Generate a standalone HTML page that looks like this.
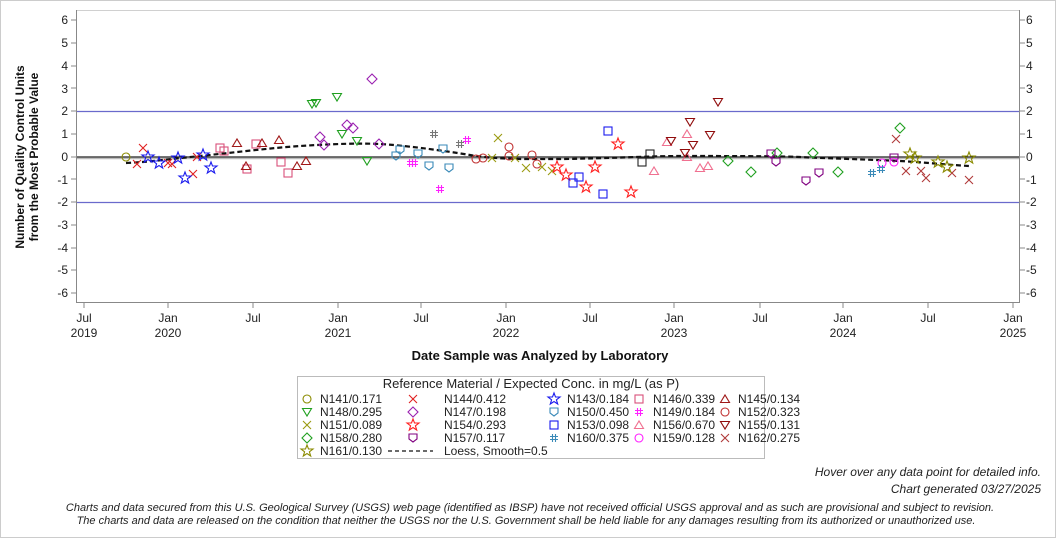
<!DOCTYPE html>
<html><head><meta charset="utf-8"><style>
body{margin:0;background:#fff;}
svg{display:block;font-family:"Liberation Sans",Arial,sans-serif;}
</style></head><body>
<svg width="1056" height="538" viewBox="0 0 1056 538" xmlns="http://www.w3.org/2000/svg">
<defs>
<g id="ci"><circle r="4" fill="none" stroke-width="1.1"/></g>
<g id="xx"><path d="M-4,-4L4,4M-4,4L4,-4" fill="none" stroke-width="1.1"/></g>
<g id="td"><path d="M-4.5,-3.5L4.5,-3.5L0,4Z" fill="none" stroke-width="1.1"/></g>
<g id="tu"><path d="M-4.5,3.5L4.5,3.5L0,-4Z" fill="none" stroke-width="1.1"/></g>
<g id="di"><path d="M0,-5L5,0L0,5L-5,0Z" fill="none" stroke-width="1.1"/></g>
<g id="st"><path d="M0,-6L1.5,-2L6,-2L2.4,0.8L3.7,5L0,2.5L-3.7,5L-2.4,0.8L-6,-2L-1.5,-2Z" fill="none" stroke-width="1.1"/></g>
<g id="sq"><rect x="-4" y="-4" width="8" height="8" fill="none" stroke-width="1.1"/></g>
<g id="sh"><path d="M-4,-4L4,-4L4,1L0,4L-4,1Z" fill="none" stroke-width="1.1"/></g>
<g id="ha"><path d="M-1.5,-4L-1.5,4M1.5,-4L1.5,4M-4,-1.5L4,-1.5M-4,1.5L4,1.5" fill="none" stroke-width="1.1"/></g>
</defs>
<rect x="0.5" y="0.5" width="1055" height="537" fill="none" stroke="#ccc"/>
<!-- frame -->
<rect x="76.5" y="10.5" width="943" height="292" fill="none" stroke="#d0d0d0"/>
<line x1="76.5" y1="10" x2="76.5" y2="303" stroke="#888"/>
<line x1="1019.5" y1="10" x2="1019.5" y2="303" stroke="#888"/>
<line x1="76" y1="302.5" x2="1020" y2="302.5" stroke="#888"/>
<line x1="77" y1="111.5" x2="1019" y2="111.5" stroke="#6a6acc" stroke-width="1.3"/>
<line x1="77" y1="202.5" x2="1019" y2="202.5" stroke="#6a6acc" stroke-width="1.3"/>
<line x1="77" y1="158.5" x2="1019" y2="158.5" stroke="#bbb" stroke-width="1.5"/>
<line x1="77" y1="157" x2="1019" y2="157" stroke="#222" stroke-width="1.2"/>
<g font-size="12" fill="#222">
<g text-anchor="end">
<text x="68" y="24">6</text><text x="68" y="47">5</text><text x="68" y="70">4</text><text x="68" y="93">3</text><text x="68" y="115">2</text><text x="68" y="138">1</text><text x="68" y="161">0</text><text x="68" y="184">-1</text><text x="68" y="206">-2</text><text x="68" y="229">-3</text><text x="68" y="252">-4</text><text x="68" y="274">-5</text><text x="68" y="297">-6</text>
</g>
<g text-anchor="start">
<text x="1026" y="24">6</text><text x="1026" y="47">5</text><text x="1026" y="70">4</text><text x="1026" y="93">3</text><text x="1026" y="115">2</text><text x="1026" y="138">1</text><text x="1026" y="161">0</text><text x="1026" y="184">-1</text><text x="1026" y="206">-2</text><text x="1026" y="229">-3</text><text x="1026" y="252">-4</text><text x="1026" y="274">-5</text><text x="1026" y="297">-6</text>
</g>
</g>
<g stroke="#888">
<path d="M71,20H76M71,43H76M71,66H76M71,88H76M71,111H76M71,134H76M71,157H76M71,179H76M71,202H76M71,225H76M71,248H76M71,270H76M71,293H76"/>
<path d="M1020,20H1025M1020,43H1025M1020,66H1025M1020,88H1025M1020,111H1025M1020,134H1025M1020,157H1025M1020,179H1025M1020,202H1025M1020,225H1025M1020,248H1025M1020,270H1025M1020,293H1025"/>
<path d="M84,303V308M168,303V308M253,303V308M338,303V308M421,303V308M506,303V308M590,303V308M674,303V308M760,303V308M843,303V308M928,303V308M1013,303V308"/>
</g>
<g font-size="12" fill="#222" text-anchor="middle">
<text x="84" y="322">Jul</text><text x="84" y="337">2019</text>
<text x="168" y="322">Jan</text><text x="168" y="337">2020</text>
<text x="253" y="322">Jul</text>
<text x="338" y="322">Jan</text><text x="338" y="337">2021</text>
<text x="421" y="322">Jul</text>
<text x="506" y="322">Jan</text><text x="506" y="337">2022</text>
<text x="590" y="322">Jul</text>
<text x="674" y="322">Jan</text><text x="674" y="337">2023</text>
<text x="760" y="322">Jul</text>
<text x="843" y="322">Jan</text><text x="843" y="337">2024</text>
<text x="928" y="322">Jul</text>
<text x="1013" y="322">Jan</text><text x="1013" y="337">2025</text>
</g>
<text x="540" y="360" font-size="13" font-weight="bold" text-anchor="middle" fill="#111">Date Sample was Analyzed by Laboratory</text>
<g transform="translate(24,157) rotate(-90)" font-size="12" font-weight="bold" text-anchor="middle" fill="#111">
<text x="0" y="0">Number of Quality Control Units</text>
<text x="0" y="14">from the Most Probable Value</text>
</g>
<!-- loess -->
<path d="M126,163 C150,162 170,159 200,156 S270,148 300,146 S360,143 380,144 S440,150 470,155 S530,159 560,159 S650,156 680,156 S780,156 800,157 S880,160 900,161 S950,165 969,166" fill="none" stroke="#111" stroke-width="2.2" stroke-dasharray="5,3"/>
<!-- points -->
<g stroke="#8b8b00"><use href="#ci" x="126" y="157"/></g>
<g stroke="#e02020"><use href="#xx" x="137" y="164"/><use href="#xx" x="143" y="148"/><use href="#xx" x="168" y="163"/><use href="#xx" x="172" y="164"/><use href="#xx" x="193" y="174"/><use href="#xx" x="197" y="157"/></g>
<g stroke="#1a1aee"><use href="#st" x="148" y="157"/><use href="#st" x="159" y="163"/><use href="#st" x="178" y="158"/><use href="#st" x="185" y="178"/><use href="#st" x="203" y="155"/><use href="#st" x="211" y="168"/></g>
<g stroke="#d9507a"><use href="#sq" x="220" y="148"/><use href="#sq" x="224" y="151"/><use href="#sq" x="247" y="169"/><use href="#sq" x="256" y="144"/><use href="#sq" x="281" y="162"/><use href="#sq" x="288" y="173"/></g>
<g stroke="#a01818"><use href="#tu" x="237" y="143"/><use href="#tu" x="246" y="166"/><use href="#tu" x="262" y="143"/><use href="#tu" x="279" y="140"/><use href="#tu" x="297" y="166"/><use href="#tu" x="306" y="161"/></g>
<g stroke="#20a020"><use href="#td" x="312" y="104"/><use href="#td" x="316" y="103"/><use href="#td" x="337" y="97"/><use href="#td" x="342" y="134"/><use href="#td" x="357" y="141"/><use href="#td" x="367" y="161"/></g>
<g stroke="#9a20b0"><use href="#di" x="320" y="137"/><use href="#di" x="324" y="145"/><use href="#di" x="347" y="125"/><use href="#di" x="353" y="128"/><use href="#di" x="372" y="79"/><use href="#di" x="379" y="144"/></g>
<g stroke="#3a8ab8"><use href="#sh" x="396" y="156"/><use href="#sh" x="400" y="150"/><use href="#sh" x="418" y="154"/><use href="#sh" x="429" y="166"/><use href="#sh" x="443" y="149"/><use href="#sh" x="449" y="168"/></g>
<g stroke="#ff20ff"><use href="#ha" x="411" y="163"/><use href="#ha" x="414" y="163"/><use href="#ha" x="440" y="189"/><use href="#ha" x="467" y="140"/></g>
<g stroke="#777"><use href="#ha" x="434" y="134"/><use href="#ha" x="460" y="144"/></g>
<g stroke="#c03030"><use href="#ci" x="476" y="159"/><use href="#ci" x="483" y="158"/><use href="#ci" x="509" y="147"/><use href="#ci" x="509" y="156"/><use href="#ci" x="532" y="155"/><use href="#ci" x="537" y="164"/></g>
<g stroke="#9a9a10"><use href="#xx" x="492" y="158"/><use href="#xx" x="498" y="138"/><use href="#xx" x="515" y="158"/><use href="#xx" x="526" y="168"/><use href="#xx" x="542" y="167"/><use href="#xx" x="552" y="171"/></g>
<g stroke="#ff2020"><use href="#st" x="557" y="167"/><use href="#st" x="566" y="175"/><use href="#st" x="586" y="187"/><use href="#st" x="595" y="167"/><use href="#st" x="618" y="144"/><use href="#st" x="631" y="192"/></g>
<g stroke="#1a1aee"><use href="#sq" x="573" y="183"/><use href="#sq" x="579" y="177"/><use href="#sq" x="603" y="194"/><use href="#sq" x="608" y="131"/></g>
<g stroke="#222"><use href="#sq" x="642" y="162"/><use href="#sq" x="650" y="154"/></g>
<g stroke="#f07090"><use href="#tu" x="654" y="171"/><use href="#tu" x="667" y="142"/><use href="#tu" x="687" y="134"/><use href="#tu" x="687" y="157"/><use href="#tu" x="700" y="168"/><use href="#tu" x="708" y="166"/></g>
<g stroke="#900c0c"><use href="#td" x="671" y="141"/><use href="#td" x="685" y="153"/><use href="#td" x="690" y="122"/><use href="#td" x="693" y="145"/><use href="#td" x="710" y="135"/><use href="#td" x="718" y="102"/></g>
<g stroke="#20a020"><use href="#di" x="728" y="161"/><use href="#di" x="751" y="172"/><use href="#di" x="777" y="153"/><use href="#di" x="813" y="153"/><use href="#di" x="838" y="172"/><use href="#di" x="900" y="128"/></g>
<g stroke="#800080"><use href="#sh" x="771" y="154"/><use href="#sh" x="776" y="162"/><use href="#sh" x="806" y="181"/><use href="#sh" x="819" y="173"/><use href="#sh" x="894" y="158"/></g>
<g stroke="#ff20ff"><use href="#ci" x="882" y="163"/><use href="#ci" x="894" y="162"/></g>
<g stroke="#3a8ab8"><use href="#ha" x="872" y="173"/><use href="#ha" x="881" y="169"/></g>
<g stroke="#b03a3a"><use href="#xx" x="896" y="139"/><use href="#xx" x="906" y="171"/><use href="#xx" x="921" y="171"/><use href="#xx" x="926" y="178"/><use href="#xx" x="952" y="173"/><use href="#xx" x="969" y="180"/></g>
<g stroke="#8b8b00"><use href="#st" x="910" y="154"/><use href="#st" x="915" y="158"/><use href="#st" x="938" y="162"/><use href="#st" x="947" y="167"/><use href="#st" x="969" y="158"/></g>
<!-- legend -->
<rect x="297.5" y="376.5" width="467" height="82" fill="none" stroke="#bbb"/>
<text x="531" y="388" font-size="13" text-anchor="middle" fill="#222">Reference Material / Expected Conc. in mg/L (as P)</text>
<g font-size="12" fill="#222">
<g stroke="#8b8b00"><use href="#ci" x="307" y="399"/></g><text x="320" y="403">N141/0.171</text>
<g stroke="#e02020"><use href="#xx" x="413" y="399"/></g><text x="444" y="403">N144/0.412</text>
<g stroke="#1a1aee"><use href="#st" x="554" y="399"/></g><text x="567" y="403">N143/0.184</text>
<g stroke="#d9507a"><use href="#sq" x="639" y="399"/></g><text x="653" y="403">N146/0.339</text>
<g stroke="#a01818"><use href="#tu" x="725" y="399"/></g><text x="738" y="403">N145/0.134</text>

<g stroke="#20a020"><use href="#td" x="307" y="412"/></g><text x="320" y="416">N148/0.295</text>
<g stroke="#9a20b0"><use href="#di" x="413" y="412"/></g><text x="444" y="416">N147/0.198</text>
<g stroke="#3a8ab8"><use href="#sh" x="554" y="412"/></g><text x="567" y="416">N150/0.450</text>
<g stroke="#ff20ff"><use href="#ha" x="639" y="412"/></g><text x="653" y="416">N149/0.184</text>
<g stroke="#c03030"><use href="#ci" x="725" y="412"/></g><text x="738" y="416">N152/0.323</text>

<g stroke="#9a9a10"><use href="#xx" x="307" y="425"/></g><text x="320" y="429">N151/0.089</text>
<g stroke="#ff2020"><use href="#st" x="413" y="425"/></g><text x="444" y="429">N154/0.293</text>
<g stroke="#1a1aee"><use href="#sq" x="554" y="425"/></g><text x="567" y="429">N153/0.098</text>
<g stroke="#f07090"><use href="#tu" x="639" y="425"/></g><text x="653" y="429">N156/0.670</text>
<g stroke="#900c0c"><use href="#td" x="725" y="425"/></g><text x="738" y="429">N155/0.131</text>

<g stroke="#20a020"><use href="#di" x="307" y="438"/></g><text x="320" y="442">N158/0.280</text>
<g stroke="#800080"><use href="#sh" x="413" y="438"/></g><text x="444" y="442">N157/0.117</text>
<g stroke="#3a8ab8"><use href="#ha" x="554" y="438"/></g><text x="567" y="442">N160/0.375</text>
<g stroke="#ff20ff"><use href="#ci" x="639" y="438"/></g><text x="653" y="442">N159/0.128</text>
<g stroke="#b03a3a"><use href="#xx" x="725" y="438"/></g><text x="738" y="442">N162/0.275</text>

<g stroke="#8b8b00"><use href="#st" x="307" y="451"/></g><text x="320" y="455">N161/0.130</text>
<line x1="388" y1="451" x2="433" y2="451" stroke="#111" stroke-width="1.2" stroke-dasharray="4,3"/><text x="444" y="455">Loess, Smooth=0.5</text>
</g>
<g font-size="12" font-style="italic" fill="#222" text-anchor="end">
<text x="1041" y="476">Hover over any data point for detailed info.</text>
<text x="1041" y="493">Chart generated 03/27/2025</text>
</g>
<g font-size="11" font-style="italic" fill="#222" text-anchor="middle">
<text x="530" y="511">Charts and data secured from this U.S. Geological Survey (USGS) web page (identified as IBSP) have not received official USGS approval and as such are provisional and subject to revision.</text>
<text x="526" y="524">The charts and data are released on the condition that neither the USGS nor the U.S. Government shall be held liable for any damages resulting from its authorized or unauthorized use.</text>
</g>
</svg>
</body></html>
